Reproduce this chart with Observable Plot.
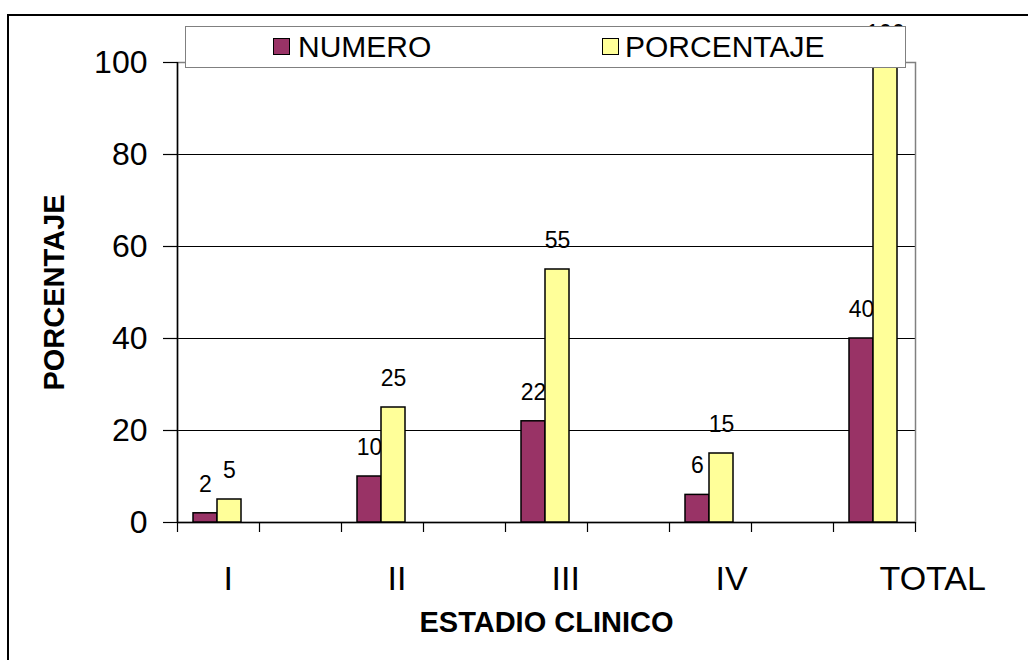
<!DOCTYPE html>
<html>
<head>
<meta charset="utf-8">
<script src="https://cdn.jsdelivr.net/npm/d3@7"></script>
<script src="https://cdn.jsdelivr.net/npm/@observablehq/plot@0.6"></script>
<style>
  html, body { margin: 0; padding: 0; background: #fff; overflow: hidden; }
  body { width: 1028px; height: 660px; position: relative; font-family: "Liberation Sans", Arial, sans-serif; }
  #chart { position: absolute; left: 0; top: 0; }
  #frame { position: absolute; left: 7px; top: 14px; width: 1100px; height: 800px; border: 2px solid #000; pointer-events: none; }
  #legend { position: absolute; left: 185px; top: 26px; width: 719px; height: 40px; border: 1px solid #808080; background: #fff; }
  .sw { position: absolute; width: 15px; height: 15px; border: 1.5px solid #000; top: 11px; }
  .lt { position: absolute; top: 2px; font-size: 30px; line-height: 36px; color: #000; }
</style>
</head>
<body>
<div id="chart"></div>
<div id="frame"></div>
<div id="legend"></div>
<script>
// ---- data ----
const categories = ["I", "II", "III", "IV", "TOTAL"];
const numero = [2, 10, 22, 6, 40];
const porcentaje = [5, 25, 55, 15, 100];
const yTicks = [0, 20, 40, 60, 80, 100];
const seriesNames = ["NUMERO", "PORCENTAJE"];
const seriesColors = ["#993366", "#FFFF99"];
const xTitle = "ESTADIO CLINICO";
const yTitle = "PORCENTAJE";

// category slots: each category followed by an empty slot (as in the original sheet)
const slots = [];
categories.forEach((c, i) => { slots.push(c); if (i < categories.length - 1) slots.push("gap" + i); });
const rows = categories.map((c, i) => ({cat: c, numero: numero[i], porcentaje: porcentaje[i]}));

const W = 1028, H = 660, mL = 177, mR = 113, mT = 62, mB = 138;
const step = (W - mL - mR) / slots.length;

const chart = Plot.plot({
  width: W,
  height: H,
  marginLeft: mL,
  marginRight: mR,
  marginTop: mT,
  marginBottom: mB,
  style: {fontFamily: "'Liberation Sans', Arial, sans-serif", color: "#000", background: "transparent", overflow: "visible"},
  x: {type: "band", domain: slots, padding: 0, round: false},
  y: {domain: [0, 100]},
  marks: [
    Plot.gridY(yTicks.filter(v => v > 0 && v < 100), {stroke: "#000", strokeOpacity: 1, strokeWidth: 1}),
    Plot.frame({stroke: "#808080", strokeWidth: 1.5}),
    Plot.ruleX([slots[0]], {dx: -step / 2, stroke: "#000", strokeWidth: 1.5}),
    Plot.ruleY([0], {stroke: "#000", strokeWidth: 1.5}),
    Plot.axisX({tickSize: 10, tickFormat: () => "", dx: -step / 2, stroke: "#000", strokeWidth: 1.2, label: null}),
    Plot.axisX({ticks: [slots[slots.length - 1]], tickSize: 10, tickFormat: () => "", dx: step / 2, stroke: "#000", strokeWidth: 1.2, label: null}),
    Plot.axisX({ticks: categories, tickSize: 0, tickPadding: 43, textAnchor: "start", dx: 5, fontSize: 34, label: null}),
    Plot.axisY({ticks: yTicks, tickSize: 14, tickPadding: 16, fontSize: 32, stroke: "#000", strokeWidth: 1.2, label: null}),
    Plot.barY(rows, {x: "cat", y: "numero", fill: seriesColors[0], stroke: "#000", strokeWidth: 1.5, insetLeft: 16, insetRight: 42}),
    Plot.text(rows, {x: "cat", y: "numero", text: d => String(d.numero), dx: -13, dy: -29, fontSize: 23}),
    Plot.barY(rows, {x: "cat", y: "porcentaje", fill: seriesColors[1], stroke: "#000", strokeWidth: 1.5, insetLeft: 40, insetRight: 18}),
    Plot.text(rows, {x: "cat", y: "porcentaje", text: d => String(d.porcentaje), dx: 11, dy: -29, fontSize: 23}),
    Plot.text([yTitle], {frameAnchor: "left", textAnchor: "middle", lineAnchor: "middle", rotate: -90, dx: -123, fontWeight: "bold", fontSize: 29}),
    Plot.text([xTitle], {frameAnchor: "bottom", textAnchor: "middle", lineAnchor: "middle", dy: 100, fontWeight: "bold", fontSize: 29})
  ]
});
document.getElementById("chart").appendChild(chart);

// legend
const legend = document.getElementById("legend");
const legendPos = [{sw: 87, tx: 112}, {sw: 416, tx: 439}];
seriesNames.forEach((name, i) => {
  const sw = document.createElement("div");
  sw.className = "sw";
  sw.style.left = legendPos[i].sw + "px";
  sw.style.background = seriesColors[i];
  legend.appendChild(sw);
  const t = document.createElement("div");
  t.className = "lt";
  t.style.left = legendPos[i].tx + "px";
  t.textContent = name;
  legend.appendChild(t);
});
</script>
</body>
</html>
